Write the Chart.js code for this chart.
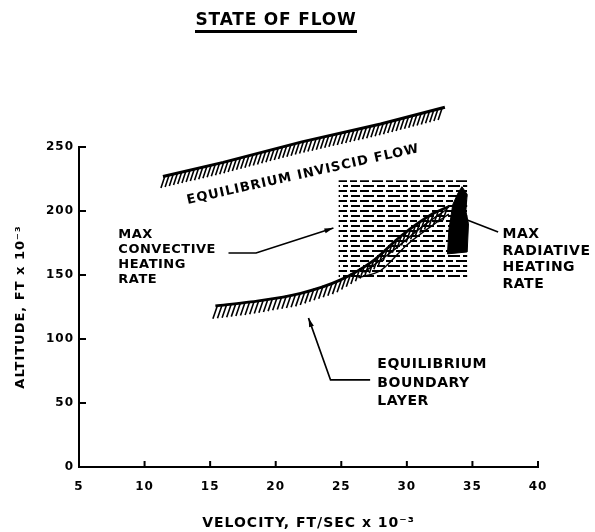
<!DOCTYPE html>
<html>
<head>
<meta charset="utf-8">
<script src="https://cdn.jsdelivr.net/npm/chart.js@4.4.0/dist/chart.umd.min.js"></script>
<style>
  html, body { margin: 0; padding: 0; background: #fff; }
  #wrap { width: 595px; height: 532px; }
</style>
</head>
<body>
<div id="wrap"><canvas id="chart" width="595" height="532"></canvas></div>
<script>
// axis ticks (velocity ft/sec x 10^-3, altitude ft x 10^-3)
const velocityTicks = [5, 10, 15, 20, 25, 30, 35, 40];
const altitudeTicks = [0, 50, 100, 150, 200, 250];

// equilibrium inviscid flow boundary
const inviscidVel = [11.4, 16, 22, 28, 32.9];
const inviscidAlt = [227, 238, 254, 268, 281];

// equilibrium boundary layer boundary
const boundaryVel = [15.4, 18.1, 21.9, 24.9, 27.5, 29.5, 32.0, 33.2];
const boundaryAlt = [125.8, 129, 135.7, 146, 161.7, 180, 198, 203.5];

// cross-hatched band under the boundary layer curve, inside the box
const meshMidVel = [26.7, 28.7, 31.2, 33.0];
const meshMidAlt = [152, 167, 188, 201];
const meshLowVel = [26.3, 28.0, 30.0, 32.4, 33.2];
const meshLowAlt = [148, 153.5, 173.5, 192, 197.5];

// max convective heating rate region
const convectiveVel = [24.8, 24.8, 34.6, 34.6, 24.8];
const convectiveAlt = [148, 224, 224, 148, 148];

// max radiative heating rate region
const radiativeVel = [34.2, 34.6, 34.5, 34.7, 34.6, 33.1, 33.2, 33.5, 33.9, 34.2];
const radiativeAlt = [219, 213, 200, 190, 168, 166.5, 185, 205, 214, 219];

const pts = (xs, ys) => xs.map((x, i) => ({ x: x, y: ys[i] }));

// annotation placement, in data units
const notes = [
  { at: [8.0, 178.9], size: 13, step: 15, lines: ['MAX', 'CONVECTIVE', 'HEATING', 'RATE'] },
  { at: [37.3, 178.9], size: 14, step: 16.7, lines: ['MAX', 'RADIATIVE', 'HEATING', 'RATE'] },
  { at: [27.75, 77.3], size: 14, step: 18.5, lines: ['EQUILIBRIUM', 'BOUNDARY', 'LAYER'] }
];
const leaders = [
  { path: [[16.4, 167.2], [18.5, 167.2], [24.4, 186.7]], head: true },
  { path: [[27.2, 68], [24.18, 68], [22.5, 116.4]], head: true },
  { path: [[34.6, 193], [36.96, 183.6]], head: false }
];

const FONT = '"DejaVu Sans", sans-serif';

function dashPattern(ctx) {
  const c = document.createElement('canvas');
  c.width = 60; c.height = 10;
  const g = c.getContext('2d');
  g.fillStyle = '#000';
  [[0, 9], [12, 23], [26, 33], [36, 47], [50, 57]].forEach(([a, b]) => g.fillRect(a, 0, b - a, 2));
  [[3, 14], [17, 25], [28, 40], [43, 48], [51, 60]].forEach(([a, b]) => g.fillRect(a, 5, b - a, 2));
  return ctx.createPattern(c, 'repeat');
}

function hatch(ctx, meta, spacing, dx, dy) {
  const p = meta.data.map(e => ({ x: e.x, y: e.y }));
  ctx.beginPath();
  for (let x = p[0].x + 2; x < p[p.length - 1].x; x += spacing) {
    let i = 0;
    while (i < p.length - 2 && p[i + 1].x < x) i++;
    const t = (x - p[i].x) / (p[i + 1].x - p[i].x);
    const y = p[i].y + t * (p[i + 1].y - p[i].y);
    ctx.moveTo(x, y);
    ctx.lineTo(x - dx, y + dy);
  }
  ctx.stroke();
}

const sketch = {
  id: 'sketch',
  beforeUpdate(chart) { chart.ctx.letterSpacing = '1px'; },
  beforeDraw(chart) {
    const ctx = chart.ctx;
    ctx.save();
    ctx.fillStyle = '#fff';
    ctx.fillRect(0, 0, chart.width, chart.height);
    ctx.restore();
    ctx.letterSpacing = '1px';
  },
  afterDatasetsDraw(chart) {
    const ctx = chart.ctx, xs = chart.scales.x, ys = chart.scales.y;
    const X = v => xs.getPixelForValue(v), Y = v => ys.getPixelForValue(v);
    ctx.save();
    ctx.strokeStyle = '#000';
    ctx.fillStyle = '#000';
    ctx.lineWidth = 1.6;
    hatch(ctx, chart.getDatasetMeta(0), 4.2, 4, 12);
    hatch(ctx, chart.getDatasetMeta(1), 4.6, 4.5, 13);

    // leaders and arrows
    ctx.lineWidth = 1.7;
    leaders.forEach(l => {
      const q = l.path.map(([a, b]) => [X(a), Y(b)]);
      ctx.beginPath();
      ctx.moveTo(q[0][0], q[0][1]);
      q.slice(1).forEach(([a, b]) => ctx.lineTo(a, b));
      ctx.stroke();
      if (l.head) {
        const [x1, y1] = q[q.length - 2], [x2, y2] = q[q.length - 1];
        const ang = Math.atan2(y2 - y1, x2 - x1);
        ctx.beginPath();
        ctx.moveTo(x2, y2);
        ctx.lineTo(x2 - 9 * Math.cos(ang) + 2.5 * Math.sin(ang), y2 - 9 * Math.sin(ang) - 2.5 * Math.cos(ang));
        ctx.lineTo(x2 - 9 * Math.cos(ang) - 2.5 * Math.sin(ang), y2 - 9 * Math.sin(ang) + 2.5 * Math.cos(ang));
        ctx.closePath();
        ctx.fill();
      }
    });

    // block labels
    ctx.textAlign = 'left';
    ctx.textBaseline = 'alphabetic';
    ctx.letterSpacing = '0.5px';
    notes.forEach(n => {
      ctx.font = 'bold ' + n.size + 'px ' + FONT;
      n.lines.forEach((s, i) => ctx.fillText(s, X(n.at[0]), Y(n.at[1]) + i * n.step));
    });

    // label along the inviscid flow line
    const m = chart.getDatasetMeta(0).data;
    const ang = Math.atan2(m[m.length - 1].y - m[0].y, m[m.length - 1].x - m[0].x) + 0.02;
    ctx.save();
    ctx.translate(X(13.3), Y(205.5));
    ctx.rotate(ang);
    ctx.font = 'bold 13px ' + FONT;
    ctx.letterSpacing = '1px';
    ctx.fillText('EQUILIBRIUM INVISCID FLOW', 0, 0);
    ctx.restore();
    ctx.restore();
  },
  afterDraw(chart) {
    const ctx = chart.ctx, a = chart.chartArea, xs = chart.scales.x, ys = chart.scales.y;
    ctx.save();
    ctx.strokeStyle = '#000';
    ctx.lineWidth = 2;
    ctx.beginPath();
    velocityTicks.forEach(v => { const px = xs.getPixelForValue(v); ctx.moveTo(px, a.bottom); ctx.lineTo(px, a.bottom - 6); });
    altitudeTicks.forEach(v => { const py = ys.getPixelForValue(v); ctx.moveTo(a.left, py); ctx.lineTo(a.left + 7, py); });
    ctx.stroke();

    // title
    ctx.fillStyle = '#000';
    ctx.font = 'bold 17px ' + FONT;
    ctx.letterSpacing = '0.8px';
    ctx.textAlign = 'center';
    ctx.fillText('STATE OF FLOW', 276, 25);
    ctx.lineWidth = 2.8;
    ctx.beginPath();
    ctx.moveTo(195, 31.5);
    ctx.lineTo(357, 31.5);
    ctx.stroke();
    ctx.restore();
  }
};

const tickFont = { family: FONT, size: 12, weight: 'bold' };

const ctx = document.getElementById('chart').getContext('2d');
new Chart(ctx, {
  type: 'scatter',
  data: {
    datasets: [
      { label: 'Equilibrium inviscid flow', data: pts(inviscidVel, inviscidAlt), showLine: true,
        borderColor: '#000', borderWidth: 3, pointRadius: 0, clip: false, order: 1 },
      { label: 'Equilibrium boundary layer', data: pts(boundaryVel, boundaryAlt), showLine: true,
        borderColor: '#000', borderWidth: 2.8, pointRadius: 0, cubicInterpolationMode: 'monotone', clip: false, order: 1 },
      { label: 'mesh mid', data: pts(meshMidVel, meshMidAlt), showLine: true,
        borderColor: '#000', borderWidth: 1.4, pointRadius: 0, cubicInterpolationMode: 'monotone', order: 2 },
      { label: 'mesh low', data: pts(meshLowVel, meshLowAlt), showLine: true,
        borderColor: '#000', borderWidth: 1.4, pointRadius: 0, cubicInterpolationMode: 'monotone', order: 2 },
      { label: 'Max convective heating rate', data: pts(convectiveVel, convectiveAlt), showLine: true,
        borderWidth: 0, borderColor: 'rgba(0,0,0,0)', backgroundColor: dashPattern(ctx), fill: 'shape', pointRadius: 0, order: 4 },
      { label: 'Max radiative heating rate', data: pts(radiativeVel, radiativeAlt), showLine: true,
        borderWidth: 1, borderColor: '#000', backgroundColor: '#000', fill: 'shape', pointRadius: 0, tension: 0, order: 0 }
    ]
  },
  options: {
    responsive: false,
    animation: false,
    devicePixelRatio: 1,
    layout: { padding: { top: 147, right: 57, bottom: 0, left: 0 } },
    plugins: { legend: { display: false }, tooltip: { enabled: false }, title: { display: false } },
    scales: {
      x: {
        type: 'linear', min: 5, max: 40,
        grid: { display: false, drawTicks: false },
        border: { display: true, color: '#000', width: 2 },
        ticks: { stepSize: 5, color: '#000', font: tickFont, padding: 13, maxRotation: 0 },
        title: { display: true, text: 'VELOCITY, FT/SEC x 10⁻³', color: '#000',
                 font: { family: FONT, size: 14, weight: 'bold' }, padding: { top: 0, bottom: 0 } },
        afterFit(s) { s.height = 65; }
      },
      y: {
        type: 'linear', min: 0, max: 250,
        grid: { display: false, drawTicks: false },
        border: { display: true, color: '#000', width: 2 },
        ticks: { stepSize: 50, color: '#000', font: tickFont, padding: 5 },
        title: { display: true, text: 'ALTITUDE, FT x 10⁻³', color: '#000',
                 font: { family: FONT, size: 13, weight: 'bold' }, padding: { top: 13, bottom: 0 } },
        afterFit(s) { s.width = 79; }
      }
    }
  },
  plugins: [sketch]
});
</script>
</body>
</html>
